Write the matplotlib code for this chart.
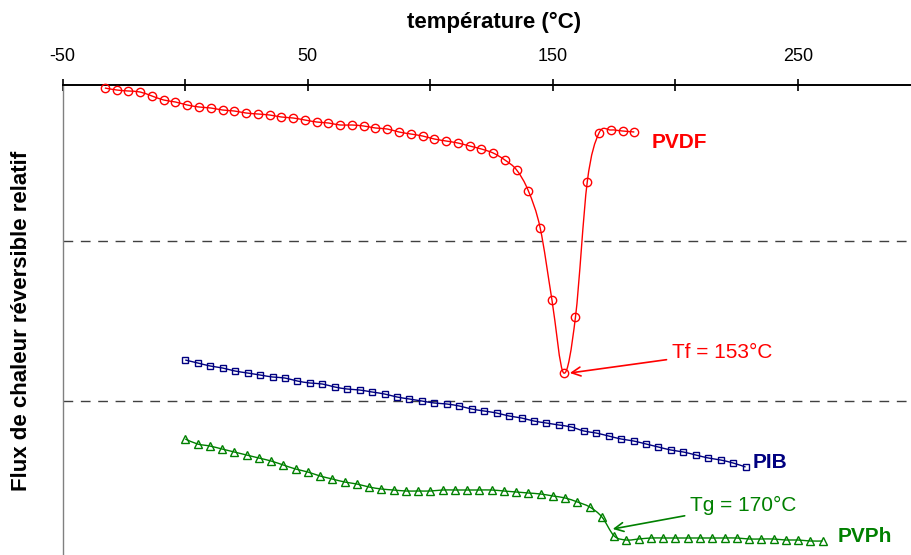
import numpy as np
import matplotlib
matplotlib.use("Agg")
import matplotlib.pyplot as plt
from matplotlib.path import Path
from matplotlib.patches import PathPatch

plt.rcParams['font.family'] = ['Liberation Sans', 'DejaVu Sans']

# ---------------- data ----------------
pvdf_T = [-32.8, -28.0, -23.2, -18.4, -13.6, -8.8, -4.0, 0.8, 5.6, 10.4, 15.2, 20.0,
          24.8, 29.6, 34.4, 39.2, 44.0, 48.8, 53.6, 58.4, 63.2, 68.0, 72.8, 77.6,
          82.4, 87.2, 92.0, 96.8, 101.6, 106.4, 111.2, 116.0, 120.8, 125.6, 130.4,
          135.2, 140.0, 144.8, 149.6, 154.4, 159.2, 164.0, 168.8, 173.6, 178.4, 183.2]
pvdf_flux = [46.7, 46.5, 46.4, 46.3, 45.9, 45.5, 45.3, 45.0, 44.8, 44.7, 44.5, 44.4,
             44.2, 44.1, 44.0, 43.8, 43.7, 43.5, 43.3, 43.2, 43.0, 43.0, 42.9, 42.7,
             42.6, 42.3, 42.1, 41.9, 41.6, 41.4, 41.2, 40.9, 40.6, 40.2, 39.5, 38.5,
             36.4, 32.7, 25.5, 18.2, 23.8, 37.3, 42.2, 42.5, 42.4, 42.3]

pib_T = [0.0, 5.1, 10.2, 15.2, 20.3, 25.4, 30.5, 35.6, 40.6, 45.7, 50.8, 55.9, 61.0,
         66.0, 71.1, 76.2, 81.3, 86.4, 91.4, 96.5, 101.6, 106.7, 111.8, 116.8, 121.9,
         127.0, 132.1, 137.2, 142.2, 147.3, 152.4, 157.5, 162.6, 167.6, 172.7, 177.8,
         182.9, 188.0, 193.0, 198.1, 203.2, 208.3, 213.4, 218.4, 223.5, 228.6]
pib_flux = [19.5, 19.2, 18.9, 18.7, 18.4, 18.2, 18.0, 17.8, 17.7, 17.4, 17.2, 17.1,
            16.8, 16.6, 16.5, 16.3, 16.1, 15.8, 15.6, 15.4, 15.2, 15.1, 14.9, 14.6,
            14.4, 14.2, 13.9, 13.7, 13.4, 13.2, 13.0, 12.8, 12.4, 12.2, 11.9, 11.6,
            11.4, 11.1, 10.8, 10.5, 10.3, 10.0, 9.7, 9.5, 9.2, 8.8]

pvph_T = [0, 5, 10, 15, 20, 25, 30, 35, 40, 45, 50, 55, 60, 65, 70, 75, 80, 85, 90,
          95, 100, 105, 110, 115, 120, 125, 130, 135, 140, 145, 150, 155, 160, 165,
          170, 175, 180, 185, 190, 195, 200, 205, 210, 215, 220, 225, 230, 235, 240,
          245, 250, 255, 260]
pvph_flux = [11.6, 11.1, 10.9, 10.6, 10.3, 10.0, 9.7, 9.4, 9.0, 8.6, 8.3, 7.9, 7.6,
             7.3, 7.1, 6.8, 6.6, 6.5, 6.4, 6.4, 6.4, 6.5, 6.5, 6.5, 6.5, 6.5, 6.4,
             6.3, 6.2, 6.1, 5.9, 5.7, 5.3, 4.8, 3.8, 1.9, 1.5, 1.6, 1.7, 1.7, 1.7,
             1.7, 1.7, 1.7, 1.7, 1.7, 1.6, 1.6, 1.6, 1.5, 1.5, 1.4, 1.4]

ref_levels = [31.4, 15.4]
xticks = [-50, 0, 50, 100, 150, 200, 250, 300]
xtick_labels = ['-50', '', '50', '', '150', '', '250', '']

tf_value = 153
tg_value = 170


def smooth_path(x, y):
    P = np.column_stack([x, y]).astype(float)
    n = len(P)
    verts = [P[0]]
    codes = [Path.MOVETO]
    for i in range(n - 1):
        p0 = P[i - 1] if i > 0 else P[i]
        p1 = P[i]
        p2 = P[i + 1]
        p3 = P[i + 2] if i + 2 < n else P[i + 1]
        c1 = p1 + (p2 - p0) / 6.0
        c2 = p2 - (p3 - p1) / 6.0
        verts += [c1, c2, p2]
        codes += [Path.CURVE4] * 3
    return Path(verts, codes)


fig = plt.figure(figsize=(9.12, 5.55), dpi=100)
W, H = 912.0, 555.0
x0_px, x300_px = 62.7, 920.6
ax = fig.add_axes([x0_px / W, 0.0, (x300_px - x0_px) / W, 1 - 85 / H])
ax.set_xlim(-50, 300)
ax.set_ylim(0, 47.0)

series = [
    (pvdf_T, pvdf_flux, '#FF0000', 'o', 6.0),
    (pib_T, pib_flux, '#000080', 's', 5.0),
    (pvph_T, pvph_flux, '#008000', '^', 5.8),
]
for T, F, col, mk, ms in series:
    ax.add_patch(PathPatch(smooth_path(T, F), facecolor='none', edgecolor=col,
                           lw=1.0, zorder=3, clip_on=False))
    ax.plot(T, F, linestyle='none', marker=mk, markersize=ms, markerfacecolor='none',
            markeredgecolor=col, markeredgewidth=1.0, zorder=4, clip_on=False)

for lv in ref_levels:
    ax.axhline(lv, color='#404040', lw=1.0, linestyle=(0, (7, 5.5)), zorder=1)

# series labels
ax.text(190.4, 41.3, 'PVDF', color='#FF0000', fontsize=15, fontweight='bold',
        ha='left', va='center')
ax.text(231.3, 9.3, 'PIB', color='#000080', fontsize=15, fontweight='bold',
        ha='left', va='center')
ax.text(266.1, 1.8, 'PVPh', color='#008000', fontsize=15, fontweight='bold',
        ha='left', va='center')

# annotations
ax.annotate(f'Tf = {tf_value}°C', xy=(156.9, 18.2), xytext=(198.6, 20.3),
            color='#FF0000', fontsize=15, ha='left', va='center',
            arrowprops=dict(arrowstyle='->', color='#FF0000', lw=1.2,
                            mutation_scale=16, shrinkA=2, shrinkB=0))
ax.annotate(f'Tg = {tg_value}°C', xy=(174.4, 2.6), xytext=(206.0, 5.0),
            color='#008000', fontsize=15, ha='left', va='center',
            arrowprops=dict(arrowstyle='->', color='#008000', lw=1.2,
                            mutation_scale=16, shrinkA=2, shrinkB=0))

# axes styling
ax.xaxis.tick_top()
ax.set_xticks(xticks)
ax.set_xticklabels(xtick_labels, fontsize=13)
ax.tick_params(axis='x', direction='inout', length=9, width=1.2, pad=10, top=True,
               bottom=False)
ax.set_yticks([])
for s in ['right', 'bottom']:
    ax.spines[s].set_visible(False)
ax.spines['top'].set_linewidth(1.4)
ax.spines['left'].set_color('#808080')
ax.spines['left'].set_linewidth(1.0)

fig.text(494 / W, 1 - 22 / H, 'température (°C)', fontsize=16, fontweight='bold',
         ha='center', va='center')
fig.text(22 / W, 1 - 321 / H, 'Flux de chaleur réversible relatif', fontsize=16,
         fontweight='bold', rotation=90, ha='center', va='center')

fig.savefig('out.png', dpi=100)
